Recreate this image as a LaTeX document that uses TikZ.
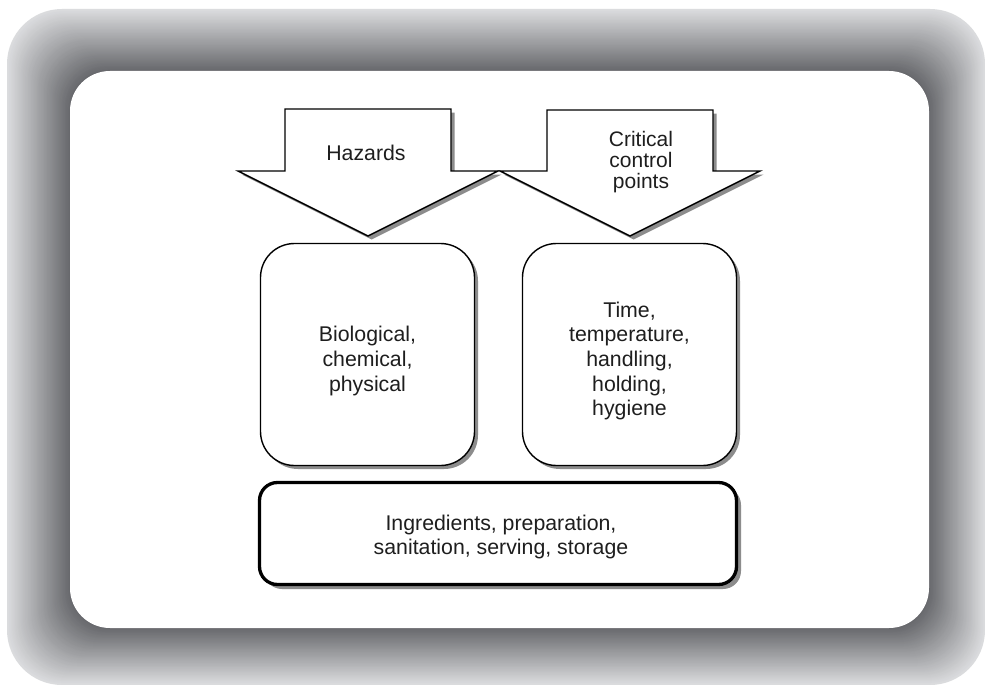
\documentclass[tikz,border=0pt]{standalone}
\usepackage{fontspec}
\setmainfont{Liberation Sans}
\usetikzlibrary{shadows}

\definecolor{frameLight}{RGB}{219,220,222}
\definecolor{frameDark}{RGB}{102,103,107}
\definecolor{inkText}{RGB}{30,30,30}
\definecolor{shadowGray}{RGB}{140,140,140}

\tikzset{
  shade off/.style={drop shadow={shadow xshift=3.5pt, shadow yshift=-3.5pt, fill=shadowGray, opacity=1}},
  blockarrow/.style={draw=black, fill=white, line width=1.4pt, line join=miter, shade off},
  roundbox/.style={draw=black, fill=white, line width=1.4pt, rectangle, rounded corners=34pt,
    minimum width=214pt, minimum height=222pt, inner sep=0pt, shade off},
  basebox/.style={draw=black, fill=white, line width=3.3pt, rectangle, rounded corners=18pt,
    minimum width=477pt, minimum height=102pt, inner sep=0pt,
    drop shadow={shadow xshift=4.5pt, shadow yshift=-4.5pt, fill=shadowGray, opacity=1}},
  label/.style={text=inkText, align=center, font=\fontsize{21.3}{24.7}\selectfont},
  arrowlabel/.style={text=inkText, align=center, font=\fontsize{21}{21.3}\selectfont}
}

\begin{document}
\begin{tikzpicture}[x=1pt, y=-1pt]
\useasboundingbox (0,0) rectangle (985,685);
\fill[white] (0,0) rectangle (985,685);

% bevelled grey frame: nested rounded rectangles from light (outside) to dark (inside)
\foreach \i in {0,...,60}{
  \pgfmathsetmacro\t{\i/60}
  \pgfmathsetmacro\xa{7+63*\t}
  \pgfmathsetmacro\ya{9+62*\t}
  \pgfmathsetmacro\xb{985-56*\t}
  \pgfmathsetmacro\yb{685-57*\t}
  \pgfmathsetmacro\rr{55-15*\t}
  \pgfmathtruncatemacro\cc{100*\t}
  \fill[frameDark!\cc!frameLight, rounded corners=\rr pt] (\xa,\ya) rectangle (\xb,\yb);
}
\fill[white, rounded corners=40pt] (70,71) rectangle (929,628);

% block arrows
\draw[blockarrow] (285,109) -- (451,109) -- (451,171) -- (498,171) -- (368,236)
  -- (238,171) -- (285,171) -- cycle;
\draw[blockarrow] (547,110) -- (713,110) -- (713,171) -- (760,171) -- (630,236)
  -- (500,171) -- (547,171) -- cycle;
\node[label] (hazards) at (366,153) {Hazards};
\node[arrowlabel] (ccp) at (641,162) {Critical\\control\\points};

% boxes
\node[roundbox] (bio) at (367.5,354.5) {};
\node[roundbox] (ttemp) at (629.5,354.5) {};
\node[label] (biotext) at (367.5,361) {Biological,\\chemical,\\physical};
\node[label] (ttext) at (629.5,361) {Time,\\temperature,\\handling,\\holding,\\hygiene};

\node[basebox] (base) at (498,533.5) {};
\node[label] (basetext) at (501,537) {Ingredients, preparation,\\sanitation, serving, storage};
\end{tikzpicture}
\end{document}
